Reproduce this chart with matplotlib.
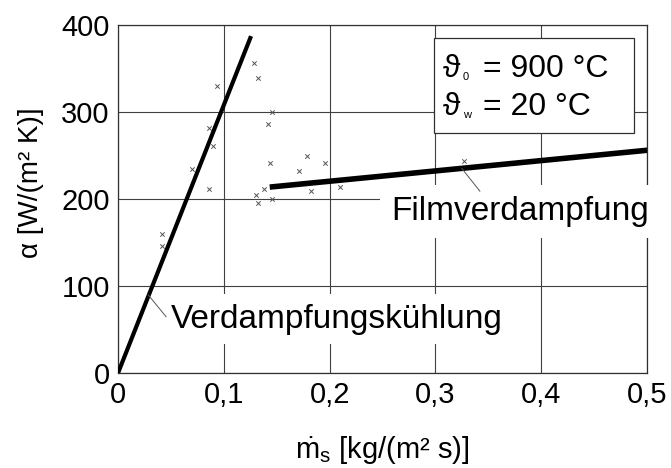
import matplotlib
matplotlib.use("Agg")
import matplotlib.pyplot as plt
from matplotlib.patches import Rectangle

plt.rcParams['font.family'] = ['Liberation Sans', 'DejaVu Sans']
plt.rcParams['mathtext.fontset'] = 'custom'
plt.rcParams['mathtext.rm'] = 'Liberation Sans'

# messpunkte
ms_pts = [0.1286, 0.132, 0.0938, 0.1457, 0.142, 0.0863, 0.0897, 0.0701, 0.1438,
          0.1785, 0.196, 0.171, 0.086, 0.138, 0.1826, 0.2095, 0.1305, 0.1324,
          0.1457, 0.0414, 0.0414, 0.327]
alpha_pts = [356, 339, 330, 300, 286, 282, 261, 235, 241,
             249, 241, 232, 211, 211, 209, 214, 205, 195.5,
             200, 160, 146, 244]

# ausgleichsgeraden
verd_x = [0.0, 0.125]
verd_y = [0, 385]
film_x = [0.146, 0.5]
film_y = [214, 256]

xticks = [0, 0.1, 0.2, 0.3, 0.4, 0.5]
xticklabels = ['0', '0,1', '0,2', '0,3', '0,4', '0,5']
yticks = [0, 100, 200, 300, 400]

fig = plt.figure(figsize=(6.71, 4.68), dpi=100)
ax = fig.add_axes([0.1759, 0.2030, 0.7884, 0.7436])

ax.set_xlim(0, 0.5)
ax.set_ylim(0, 400)
ax.set_xticks(xticks)
ax.set_xticklabels(xticklabels)
ax.set_yticks(yticks)
ax.tick_params(length=0, labelsize=21, pad=6)
ax.grid(True, color='#404040', lw=0.8)
ax.set_axisbelow(True)
for s in ax.spines.values():
    s.set_color('#303030')
    s.set_linewidth(0.9)

ax.scatter(ms_pts, alpha_pts, marker='x', s=10, color='#555555', lw=0.7, zorder=3)
ax.plot(verd_x, verd_y, color='black', lw=3.0, zorder=4)
ax.plot(film_x, film_y, color='black', lw=4.0, zorder=4)

# beschriftungen
ax.text(0.258, 176, 'Filmverdampfung', fontsize=24, va='baseline', ha='left',
        bbox=dict(boxstyle='square,pad=0.33', fc='white', ec='none'), zorder=5)
ax.plot([0.325, 0.342], [235, 209], color='#555555', lw=0.7, zorder=6)
ax.text(0.0498, 52, 'Verdampfungskühlung', fontsize=24, va='baseline', ha='left',
        bbox=dict(boxstyle='square,pad=0.28', fc='white', ec='none'), zorder=5)
ax.plot([0.0286, 0.0454], [89.7, 64.7], color='#555555', lw=0.7, zorder=6)

# kasten oben rechts
ax.add_patch(Rectangle((0.597, 0.690), 0.378, 0.273, transform=ax.transAxes,
                       fc='white', ec='#303030', lw=0.9, zorder=5))
for yb, sub, rest, xs in [(0.851, '0', '= 900 °C', 0.652), (0.741, 'w', '= 20 °C', 0.653)]:
    ax.text(0.614, yb, 'ϑ', fontsize=23, transform=ax.transAxes, va='baseline', zorder=6)
    ax.text(xs, yb - 0.008, sub, fontsize=8, transform=ax.transAxes, va='baseline', zorder=6)
    ax.text(0.690, yb, rest, fontsize=23, transform=ax.transAxes, va='baseline', zorder=6)

ax.set_xlabel(r'$\mathregular{\dot{m}_s}$ [kg/(m² s)]', fontsize=21, labelpad=18)
ax.set_ylabel('α [W/(m² K)]', fontsize=20)
ax.yaxis.set_label_coords(-0.14, 0.546)

fig.savefig('out.png', dpi=100)
